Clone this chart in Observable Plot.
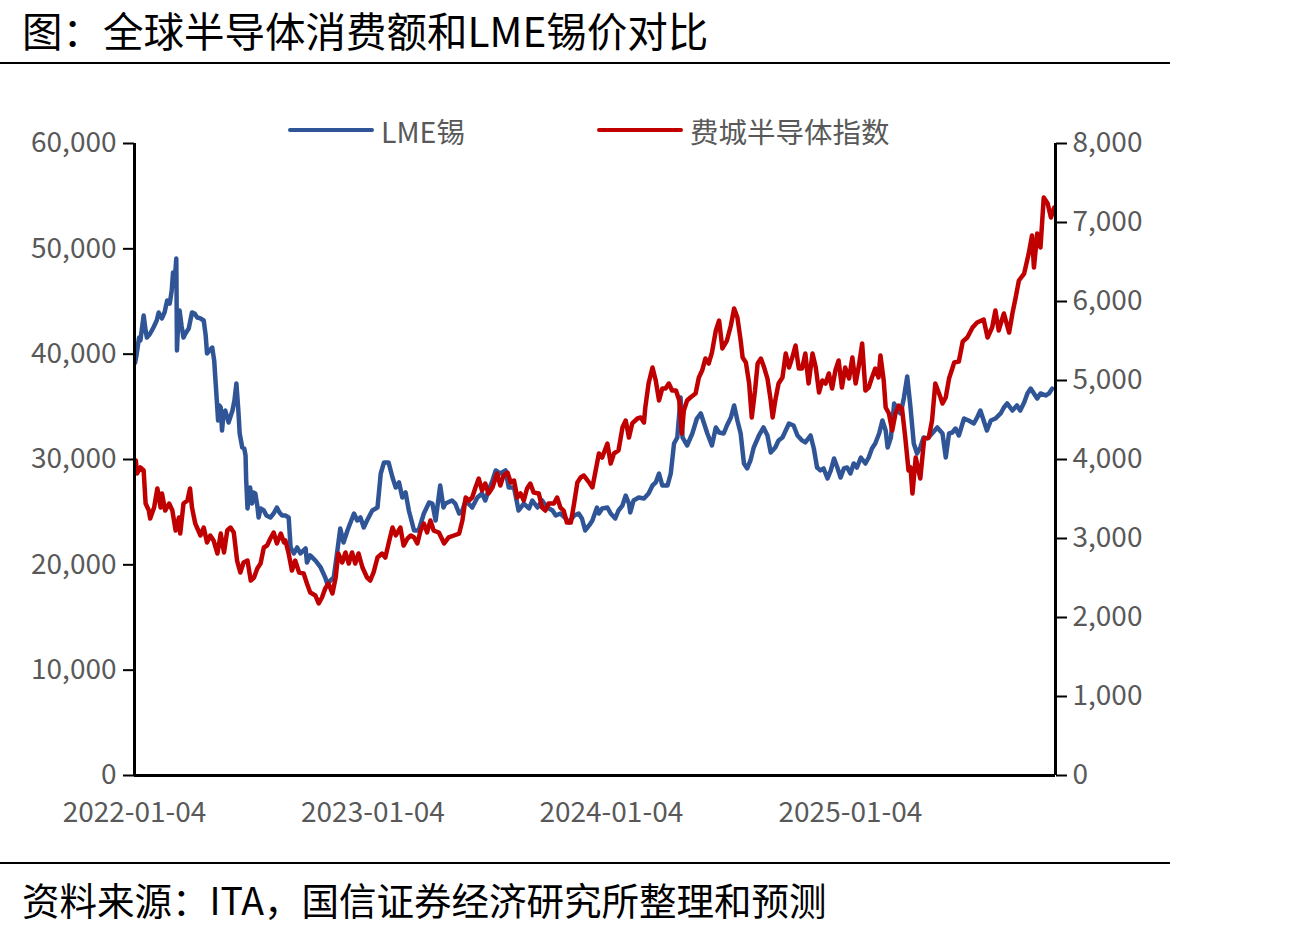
<!DOCTYPE html>
<html>
<head>
<meta charset="utf-8">
<script src="https://cdn.jsdelivr.net/npm/d3@7"></script>
<script src="https://cdn.jsdelivr.net/npm/@observablehq/plot@0.6"></script>
<style>
  body { margin: 0; background: #fff; font-family: "Noto Sans CJK SC", sans-serif; }
  #page { position: relative; width: 1293px; height: 935px; overflow: hidden; background: #fff; }
  .title { position: absolute; left: 22px; top: 0; font-size: 40.5px; line-height: normal; color: #000; white-space: nowrap; }
  .rule { position: absolute; left: 0; width: 1170px; height: 2px; background: #000; }
  #chart { position: absolute; left: 0; top: 80px; }
  .legend-item { position: absolute; top: 113px; height: 34px; display: flex; align-items: center; font-size: 28.5px; color: #595959; white-space: nowrap; }
  .swatch { display: inline-block; width: 86px; height: 4px; border-radius: 2px; margin-right: 7px; }
  .caption { position: absolute; left: 22px; top: 877px; font-size: 37.5px; line-height: 44px; color: #000; white-space: nowrap; }
</style>
</head>
<body>
<div id="page">
  <div class="title">图：全球半导体消费额和LME锡价对比</div>
  <div class="rule" style="top:62px"></div>
  <div id="chart"></div>
  <div class="legend-item" style="left:288px"><span class="swatch" style="background:#2F5597"></span>LME锡</div>
  <div class="legend-item" style="left:597px"><span class="swatch" style="background:#C00000"></span>费城半导体指数</div>
  <div class="rule" style="top:862px"></div>
  <div class="caption">资料来源：ITA，国信证券经济研究所整理和预测</div>
</div>
<script>
// Series: [days after 2022-01-04, value]
// LME tin, USD/t (left axis)
const tinSeries = [
  [1,39210],[3,39880],[7,41580],[9,41300],[11,42250],[14,43670],[17,42250],[19,41580],[24,41960],[29,42530],
  [34,43200],[37,43960],[42,43390],[46,43960],[50,45100],[54,44810],[57,46050],[59,47760],[61,46520],[64,49080],
  [65,40350],[67,43200],[69,44150],[72,42720],[75,41580],[78,41960],[83,42440],[88,43960],[92,43860],[96,43480],
  [101,43390],[106,43200],[109,41770],[111,40070],[115,40350],[119,40630],[122,39400],[124,37500],[126,35600],[128,33700],
  [130,35130],[132,34940],[134,32750],[136,34180],[139,34650],[144,33510],[150,34650],[153,35600],[156,37220],[159,34650],
  [161,32470],[165,31140],[168,31050],[170,30380],[171,28010],[173,25350],[177,27340],[180,25820],[182,26870],[185,26770],
  [188,25630],[190,24500],[193,25350],[198,25160],[202,24680],[208,24500],[213,24870],[218,25440],[222,24970],[226,24680],
  [231,24680],[236,24500],[239,21650],[244,21080],[249,21650],[254,21080],[262,21550],[264,20220],[269,20890],[277,20410],
  [285,19750],[292,18800],[295,18230],[300,18510],[305,18800],[310,21080],[315,23450],[320,22120],[326,23260],[336,24870],
  [341,24210],[346,24500],[351,23550],[356,24210],[364,25160],[372,25440],[377,28670],[382,29720],[389,29720],[395,28290],
  [400,27340],[405,27820],[410,26390],[415,26870],[420,25160],[428,23260],[435,23260],[443,24870],[451,25920],[456,25820],
  [461,24210],[468,27530],[473,25440],[476,25820],[486,26110],[491,25820],[497,24870],[502,25160],[507,26110],[517,25440],
  [525,26390],[532,26770],[537,26110],[542,27060],[548,28010],[553,28960],[560,28670],[568,28960],[573,27340],[581,27340],
  [588,25160],[596,25820],[604,25350],[609,26110],[617,25440],[624,26110],[632,25440],[640,25160],[645,24680],[652,24870],
  [660,24400],[665,24020],[673,24680],[680,24870],[685,24400],[690,23260],[696,23740],[701,24210],[708,25440],[711,24870],
  [716,25350],[724,25440],[729,24870],[736,24400],[741,25160],[747,25630],[752,26580],[757,25820],[759,24970],[764,26110],
  [772,26390],[780,26300],[787,26770],[793,27530],[798,27820],[803,28670],[808,27530],[816,27530],[821,28670],[826,31520],
  [831,32090],[836,35890],[839,32090],[846,31330],[854,32470],[861,33890],[867,34370],[872,33420],[877,32470],[884,31330],
  [890,33040],[895,32560],[902,32470],[907,33230],[913,33990],[918,35130],[923,33700],[928,32470],[933,29620],[938,29150],
  [943,29910],[948,31140],[956,32280],[963,33040],[969,32280],[974,30670],[981,31140],[986,31810],[992,32090],[997,32750],
  [1002,33420],[1009,33230],[1015,32280],[1022,31810],[1027,31620],[1035,32280],[1040,31050],[1045,29240],[1050,28960],[1055,29150],
  [1061,28200],[1066,28960],[1071,30100],[1076,29240],[1081,28290],[1086,29150],[1091,29240],[1096,28670],[1101,29620],[1106,29240],
  [1112,30190],[1119,29620],[1124,30190],[1129,31050],[1134,31520],[1140,32470],[1145,33700],[1150,32750],[1153,31140],[1158,32090],
  [1163,35320],[1168,34650],[1173,34370],[1178,35890],[1183,37880],[1188,34940],[1193,31520],[1198,30570],[1203,31140],[1208,32090],
  [1214,32000],[1221,32470],[1229,33040],[1237,32470],[1242,30190],[1247,32470],[1252,32560],[1257,32940],[1262,32280],[1270,33890],
  [1277,33700],[1285,33420],[1290,33990],[1295,34650],[1300,33700],[1305,32750],[1311,33700],[1318,33890],[1326,34370],[1331,34940],
  [1336,35320],[1344,34650],[1351,35130],[1356,34650],[1362,35410],[1367,36270],[1372,36740],[1377,36270],[1382,35790],[1387,36270],
  [1395,36080],[1400,36270],[1405,36740]
];

// Philadelphia Semiconductor Index (right axis)
const soxSeries = [
  [2,3987],[4,3823],[9,3899],[14,3861],[17,3443],[22,3354],[24,3253],[30,3392],[35,3633],[40,3392],
  [42,3570],[47,3354],[53,3443],[58,3354],[63,3101],[68,3266],[70,3063],[75,3443],[81,3481],[85,3633],
  [88,3392],[93,3190],[101,3038],[106,3139],[111,2949],[116,3038],[121,2975],[127,2810],[132,3063],[137,2823],
  [142,3101],[147,3139],[152,3076],[157,2721],[162,2570],[167,2696],[173,2721],[178,2468],[183,2506],[188,2620],
  [193,2683],[198,2886],[203,2911],[208,3000],[213,3076],[218,2937],[224,3063],[229,2949],[231,2975],[236,2810],
  [241,2595],[246,2721],[252,2570],[259,2557],[264,2430],[269,2316],[277,2278],[282,2177],[287,2253],[292,2367],
  [297,2430],[303,2304],[308,2506],[312,2810],[318,2696],[323,2823],[328,2683],[333,2823],[338,2683],[343,2810],
  [349,2633],[356,2506],[361,2468],[366,2570],[372,2759],[379,2810],[384,2759],[389,2937],[395,3139],[400,3038],
  [407,3139],[412,2911],[418,3000],[423,3038],[428,3013],[433,2937],[438,3101],[443,3190],[448,3076],[453,3228],
  [458,3101],[466,3076],[474,2937],[481,3013],[489,3038],[497,3063],[502,3228],[507,3519],[512,3481],[517,3519],
  [522,3646],[527,3759],[532,3608],[537,3696],[542,3570],[548,3646],[555,3823],[560,3671],[565,3797],[571,3835],
  [576,3709],[581,3734],[586,3519],[591,3570],[596,3481],[601,3633],[606,3696],[611,3582],[619,3570],[624,3392],
  [629,3354],[634,3443],[642,3443],[647,3519],[652,3392],[657,3354],[662,3202],[668,3202],[673,3443],[678,3709],
  [683,3772],[688,3797],[696,3709],[701,3646],[706,3861],[711,4076],[716,4025],[724,4202],[729,3949],[734,4076],
  [741,4114],[747,4405],[752,4494],[757,4278],[762,4456],[770,4519],[775,4532],[780,4468],[782,4658],[787,4962],
  [793,5164],[798,5000],[803,4747],[808,4899],[813,4899],[818,4962],[823,4873],[829,4873],[834,4747],[838,4329],
  [841,4620],[846,4747],[851,4785],[859,4835],[864,5038],[869,5126],[874,5278],[879,5215],[884,5354],[890,5633],
  [895,5759],[900,5405],[907,5506],[913,5696],[918,5911],[923,5797],[928,5506],[931,5291],[936,5228],[941,4962],
  [945,4532],[950,4873],[954,5215],[959,5278],[964,5164],[969,5025],[974,4747],[977,4532],[981,4747],[986,4962],
  [992,5038],[997,5342],[1002,5164],[1007,5291],[1012,5443],[1017,5152],[1022,5152],[1027,5342],[1032,4962],[1038,5342],
  [1043,5164],[1048,4848],[1053,5000],[1058,4962],[1063,5089],[1068,4899],[1073,5126],[1078,5253],[1083,4911],[1088,5164],
  [1094,5025],[1099,5291],[1104,4962],[1109,5190],[1114,5468],[1119,4873],[1124,4911],[1129,5038],[1134,5152],[1139,5038],
  [1142,5316],[1147,5000],[1150,4658],[1155,4582],[1160,4367],[1165,4582],[1170,4683],[1175,4645],[1180,4278],[1185,3861],
  [1188,3899],[1191,3570],[1196,4025],[1203,3759],[1209,4266],[1216,4278],[1221,4494],[1226,4962],[1234,4785],[1237,4709],
  [1242,4785],[1247,5025],[1255,5228],[1262,5240],[1268,5494],[1275,5544],[1283,5671],[1290,5734],[1300,5772],[1306,5544],
  [1313,5671],[1318,5886],[1323,5633],[1331,5848],[1339,5607],[1344,5848],[1349,6051],[1354,6266],[1362,6354],[1369,6607],
  [1374,6835],[1377,6430],[1382,6861],[1387,6683],[1392,7316],[1398,7240],[1403,7063],[1408,7190]
];

// Axis ticks
const leftTicks = [0, 10000, 20000, 30000, 40000, 50000, 60000];
const rightTicks = [0, 1000, 2000, 3000, 4000, 5000, 6000, 7000, 8000];
const xTickLabels = ["2022-01-04", "2023-01-04", "2024-01-04", "2025-01-04"];

const startDate = new Date(Date.UTC(2022, 0, 4));
const endDate = new Date(Date.UTC(2025, 10, 14));
const LEFT_MAX = 60000, RIGHT_MAX = 8000;
const RATIO = LEFT_MAX / RIGHT_MAX; // right-axis values drawn on the left scale

const atDay = d => d3.utcDay.offset(startDate, d);
const tin = tinSeries.map(([d, v]) => ({date: atDay(d), value: v}));
const sox = soxSeries.map(([d, v]) => ({date: atDay(d), value: v * RATIO}));
const xTicks = xTickLabels.map(s => new Date(s + "T00:00:00Z"));
const fmt = d3.format(",");

const chart = Plot.plot({
  width: 1293,
  height: 760,
  marginTop: 63,
  marginBottom: 65,
  marginLeft: 134,
  marginRight: 238,
  style: {fontFamily: "'Noto Sans CJK SC', sans-serif", fontSize: "28px", background: "white", overflow: "visible"},
  x: {type: "utc", domain: [startDate, endDate], label: null},
  y: {domain: [0, LEFT_MAX], label: null},
  marks: [
    Plot.lineY(tin, {x: "date", y: "value", stroke: "#2F5597", strokeWidth: 4.5, strokeLinejoin: "round"}),
    Plot.lineY(sox, {x: "date", y: "value", stroke: "#C00000", strokeWidth: 4.5, strokeLinejoin: "round"}),
    Plot.ruleY([0], {stroke: "#000", strokeWidth: 3}),
    Plot.ruleX([startDate], {stroke: "#000", strokeWidth: 3}),
    Plot.ruleX([endDate], {stroke: "#000", strokeWidth: 3}),
    Plot.axisY({anchor: "left", ticks: leftTicks, tickFormat: fmt, tickSize: 11, tickPadding: 7,
      stroke: "#000", strokeWidth: 2, fill: "#595959", label: null}),
    Plot.axisY({anchor: "right", ticks: rightTicks.map(v => v * RATIO), tickFormat: v => fmt(Math.round(v / RATIO)),
      tickSize: 11, tickPadding: 6, stroke: "#000", strokeWidth: 2, fill: "#595959", label: null}),
    Plot.axisX({ticks: xTicks, tickFormat: d3.utcFormat("%Y-%m-%d"), tickSize: 0, tickPadding: 27,
      fill: "#595959", label: null})
  ]
});

document.getElementById("chart").appendChild(chart);
</script>
</body>
</html>
